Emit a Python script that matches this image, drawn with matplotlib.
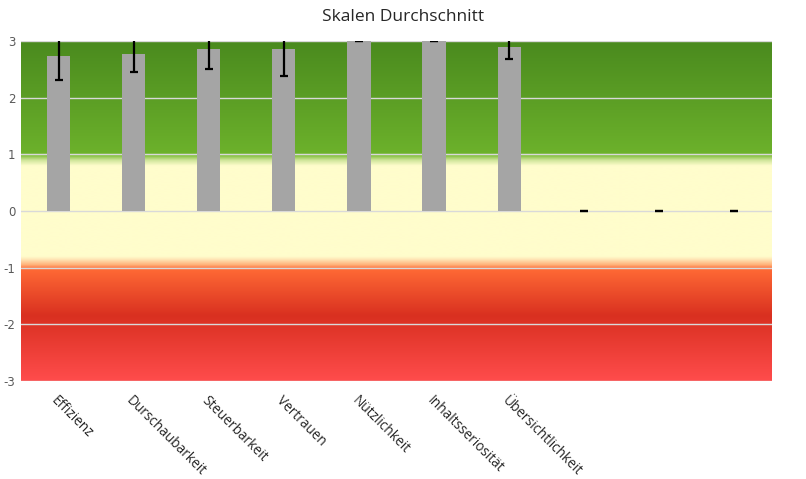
import numpy as np
import matplotlib
matplotlib.use("Agg")
import matplotlib.pyplot as plt
from matplotlib.colors import LinearSegmentedColormap

categories = ["Effizienz", "Durschaubarkeit", "Steuerbarkeit", "Vertrauen",
              "Nützlichkeit", "Inhaltsseriosität", "Übersichtlichkeit", "", "", ""]
means = [2.73, 2.77, 2.86, 2.86, 3.0, 3.0, 2.89, 0, 0, 0]
errors = [0.42, 0.32, 0.35, 0.48, 0.0, 0.0, 0.21, 0, 0, 0]
yticks = [-3, -2, -1, 0, 1, 2, 3]

# background gradient stops (value, colour)
stops = [(-3.0, "#ff4c4c"), (-1.85, "#d93020"), (-1.02, "#ff6a35"),
         (-0.95, "#ffb27a"), (-0.85, "#ffe8b8"), (-0.8, "#fffdcc"),
         (0.8, "#fffdcc"), (0.9, "#cfe59a"), (0.97, "#8cc44a"),
         (1.03, "#6cb12b"), (3.0, "#4a8a1e")]

fig = plt.figure(figsize=(8.06, 4.79), dpi=100)
ax = fig.add_axes([21/806, 1-381/479, (772-21)/806, (381-41)/479])

lo, hi = -3.0, 3.0
cmap = LinearSegmentedColormap.from_list(
    "bg", [((v-lo)/(hi-lo), c) for v, c in stops], N=1024)
grad = np.linspace(lo, hi, 1200).reshape(-1, 1)
x = np.arange(len(categories))
ax.imshow(grad, aspect="auto", cmap=cmap, origin="lower",
          extent=[-0.5, len(categories)-0.5, lo, hi], zorder=0,
          interpolation="bilinear")

for t in yticks:
    ax.axhline(t, color="#d9d9d9", lw=1.0, zorder=1)

ax.bar(x, means, width=0.31, color="#a5a5a5", linewidth=0, zorder=2)
ax.errorbar(x, means, yerr=errors, fmt="none", ecolor="black",
            elinewidth=1.6, capsize=3.2, capthick=1.6, zorder=3)

ax.set_xlim(-0.5, len(categories)-0.5)
ax.set_ylim(lo, hi)
ax.set_yticks(yticks)
ax.set_yticklabels([str(t) for t in yticks])
ax.set_xticks(x)
ax.set_xticklabels(categories, rotation=-45, ha="left", rotation_mode="anchor",
                   fontsize=9.8, family="Open Sans", color="#262626")
ax.tick_params(axis="x", length=0, pad=9)
ax.tick_params(axis="y", length=0, pad=4, labelsize=8.5, labelcolor="#595959")
for s in ax.spines.values():
    s.set_visible(False)

fig.suptitle("Skalen Durchschnitt", y=0.982, fontsize=12.5,
             family="Open Sans", color="#262626")

fig.savefig("out.png", dpi=100)
